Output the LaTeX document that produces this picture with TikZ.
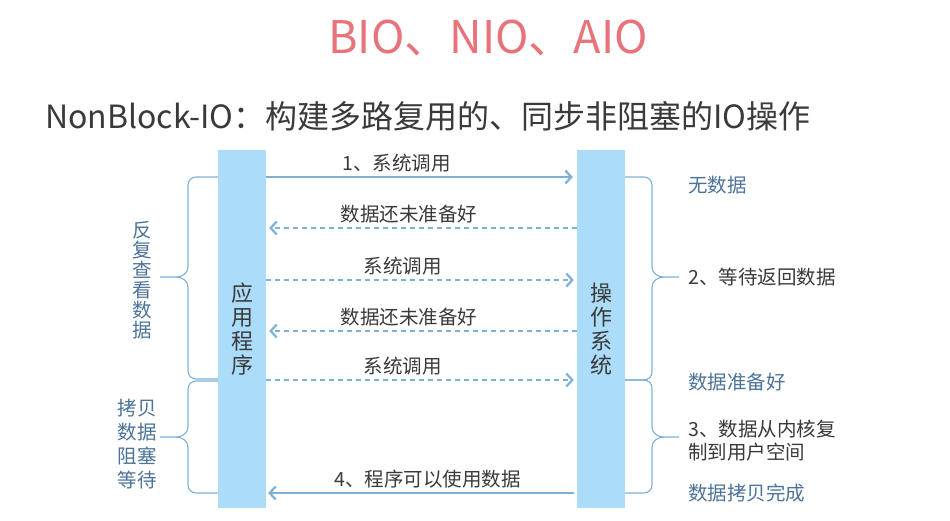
\documentclass[tikz,border=0pt]{standalone}
\usepackage{fontspec}
\setmainfont{Noto Sans CJK SC}
\usepackage{xcolor}
\usetikzlibrary{arrows.meta,positioning}

\definecolor{rouge titre}{HTML}{E8737B}
\definecolor{bleu barre}{HTML}{ABDCFA}
\definecolor{bleu fleche}{HTML}{7EB1D8}
\definecolor{bleu texte}{HTML}{4C7399}
\definecolor{gris texte}{HTML}{3A3A3A}

\begin{document}
\begin{tikzpicture}[x=1pt,y=-1pt,
   barre/.style={fill=bleu barre,minimum width=48pt,minimum height=358pt,inner sep=0pt,
     align=center,text=gris texte,font=\fontsize{22}{24}\selectfont},
   appel plein/.style={draw=bleu fleche,line width=1.6pt,
     -{Straight Barb[length=6pt,width=13pt,line width=2.2pt]}},
   appel tirets/.style={appel plein,line width=1.4pt,dash pattern=on 5pt off 4pt},
   accolade/.style={draw=bleu fleche,line width=1.1pt},
   texte fleche/.style={text=gris texte,font=\fontsize{19.5}{22}\selectfont},
   note bleue/.style={text=bleu texte,font=\fontsize{19.5}{22}\selectfont,anchor=west,inner sep=0pt},
   note noire/.style={note bleue,text=gris texte,align=left},
   note gauche/.style={text=bleu texte,align=center,inner sep=0pt}]

  \useasboundingbox[fill=white] (0,0) rectangle (950,520);

  % titres
  \node[text=rouge titre,font=\fontsize{45}{48}\selectfont] (titre) at (488,38) {BIO、NIO、AIO};
  \node[text=gris texte,font=\fontsize{32}{36}\selectfont,anchor=west,inner sep=0pt] (soustitre) at (45,116)
    {NonBlock-IO：构建多路复用的、同步非阻塞的IO操作};

  % les deux colonnes
  \node[barre] (app) at (242,329) {应\\用\\程\\序};
  \node[barre] (os) at (601,329) {操\\作\\系\\统};

  % appels
  \draw[appel plein,shorten >=4pt] (app.east |- 0,177) -- (os.west |- 0,177)
    node[texte fleche,pos=0.42,above=1pt] {1、系统调用};
  \foreach \y/\de/\vers/\txt/\p in {228/os.west/app.east/数据还未准备好/0.54,
      280/app.east/os.west/系统调用/0.44,
      331/os.west/app.east/数据还未准备好/0.54,
      380/app.east/os.west/系统调用/0.44}
    \draw[appel tirets,shorten >=3pt] (\de |- 0,\y) -- (\vers |- 0,\y)
      node[texte fleche,pos=\p,above=1pt] {\txt};
  \draw[appel plein,shorten <=3pt,shorten >=2pt] (os.west |- 0,493) -- (app.east |- 0,493)
    node[texte fleche,pos=0.48,above=1pt] {4、程序可以使用数据};

  % accolades
  \foreach \h/\p/\b in {177/277/379,381/437/493}
    \draw[accolade] (app.west |- 0,\h) -- (196,\h) to[out=180,in=90] (188,\h+8)
      -- (188,\p-10) to[out=-90,in=0] (176,\p) -- (160,\p) -- (176,\p)
      to[out=0,in=90] (188,\p+10) -- (188,\b-8) to[out=-90,in=180] (196,\b)
      -- (app.west |- 0,\b);
  \foreach \h/\p/\b in {177/277/380,380/437/493}
    \draw[accolade] (os.east |- 0,\h) -- (644,\h) to[out=0,in=90] (652,\h+8)
      -- (652,\p-10) to[out=-90,in=180] (664,\p) -- (679,\p) -- (664,\p)
      to[out=180,in=90] (652,\p+10) -- (652,\b-8) to[out=-90,in=0] (644,\b)
      -- (os.east |- 0,\b);

  % textes a gauche
  \node[note gauche,font=\fontsize{19.5}{20}\selectfont] (relecture) at (142,280)
    {反\\复\\查\\看\\数\\据};
  \node[note gauche,font=\fontsize{19.5}{24}\selectfont] (copie) at (137,444)
    {拷贝\\数据\\阻塞\\等待};

  % textes a droite
  \node[note bleue] (vide) at (688,185) {无数据};
  \node[note noire] (attente) at (688,277) {2、等待返回数据};
  \node[note bleue] (pret) at (688,382) {数据准备好};
  \node[note noire,font=\fontsize{19.5}{23}\selectfont] (copie noyau) at (688,441)
    {3、数据从内核复\\制到用户空间};
  \node[note bleue] (fini) at (688,493) {数据拷贝完成};
\end{tikzpicture}
\end{document}
